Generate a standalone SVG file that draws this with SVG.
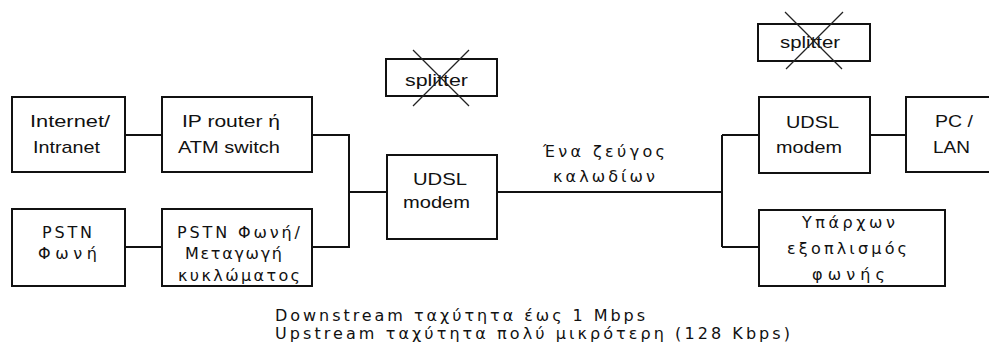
<svg xmlns="http://www.w3.org/2000/svg" width="989" height="350" viewBox="0 0 989 350">
<style>
.box{fill:#fff;stroke:#111;stroke-width:2}
.ln{fill:none;stroke:#111;stroke-width:2}
.x{stroke:#222;stroke-width:1.3}
.t{font-family:"Liberation Sans",Arial,sans-serif;font-size:17px;fill:#111}
.g{font-family:"DejaVu Sans","Liberation Sans",sans-serif;font-size:16px;fill:#111}
</style>
<rect width="989" height="350" fill="#fff"/>
<g id="connectors">
<path class="ln" d="M125 135H162M125 247H162M312 135H349V247H312M349 192H387M497 192H722M722 135V247M722 135H759M722 247H759M870 135H906"/>
</g>
<g id="internet">
<rect class="box" x="12" y="97" width="113" height="75"/>
<text class="t" x="30" y="127" textLength="80" lengthAdjust="spacingAndGlyphs">Internet/</text>
<text class="t" x="33" y="153" textLength="67" lengthAdjust="spacingAndGlyphs">Intranet</text>
</g>
<g id="iprouter">
<rect class="box" x="162" y="97" width="150" height="75"/>
<text class="t" x="182" y="127" textLength="98" lengthAdjust="spacingAndGlyphs">IP router  ή</text>
<text class="t" x="178" y="153" textLength="102" lengthAdjust="spacingAndGlyphs">ATM switch</text>
</g>
<g id="pstn">
<rect class="box" x="12" y="209" width="113" height="77"/>
<text class="g" x="42" y="238" textLength="50" lengthAdjust="spacing">PSTN</text>
<text class="g" x="38" y="259" textLength="59" lengthAdjust="spacing">Φωνή</text>
</g>
<g id="pstnswitch">
<rect class="box" x="162" y="209" width="150" height="77"/>
<text class="g" x="177" y="238" textLength="123" lengthAdjust="spacing">PSTN Φωνή/</text>
<text class="g" x="185" y="259" textLength="97" lengthAdjust="spacing">Μεταγωγή</text>
<text class="g" x="178" y="281" textLength="122" lengthAdjust="spacing">κυκλώματος</text>
</g>
<g id="splitter1">
<rect class="box" x="386" y="59" width="111" height="37"/>
<text class="t" x="405" y="86" textLength="63" lengthAdjust="spacingAndGlyphs">splitter</text>
<line class="x" x1="413" y1="50" x2="469" y2="106"/>
<line class="x" x1="469" y1="50" x2="413" y2="106"/>
</g>
<g id="modem1">
<rect class="box" x="387" y="155" width="110" height="84"/>
<text class="t" x="413" y="185" textLength="54" lengthAdjust="spacingAndGlyphs">UDSL</text>
<text class="t" x="403" y="208" textLength="67" lengthAdjust="spacingAndGlyphs">modem</text>
</g>
<g id="pairlabel">
<text class="g" x="543" y="157" textLength="122" lengthAdjust="spacing">Ένα ζεύγος</text>
<text class="g" x="553" y="182" textLength="102" lengthAdjust="spacing">καλωδίων</text>
</g>
<g id="splitter2">
<rect class="box" x="758" y="24" width="112" height="37"/>
<text class="t" x="780" y="48" textLength="60" lengthAdjust="spacingAndGlyphs">splitter</text>
<line class="x" x1="785" y1="12" x2="842" y2="69"/>
<line class="x" x1="843" y1="12" x2="786" y2="69"/>
</g>
<g id="modem2">
<rect class="box" x="759" y="97" width="111" height="76"/>
<text class="t" x="786" y="128" textLength="53" lengthAdjust="spacingAndGlyphs">UDSL</text>
<text class="t" x="776" y="153" textLength="66" lengthAdjust="spacingAndGlyphs">modem</text>
</g>
<g id="pclan">
<rect class="box" x="906" y="97" width="100" height="75"/>
<text class="t" x="935" y="127" textLength="38" lengthAdjust="spacingAndGlyphs">PC /</text>
<text class="t" x="933" y="153" textLength="37" lengthAdjust="spacingAndGlyphs">LAN</text>
</g>
<g id="voice">
<rect class="box" x="759" y="210" width="186" height="76"/>
<text class="g" x="802" y="228" textLength="93" lengthAdjust="spacing">Υπάρχων</text>
<text class="g" x="787" y="254" textLength="120" lengthAdjust="spacing">εξοπλισμός</text>
<text class="g" x="812" y="280" textLength="73" lengthAdjust="spacing">φωνής</text>
</g>
<g id="caption">
<text class="g" x="275" y="321" textLength="370" lengthAdjust="spacing">Downstream ταχύτητα έως 1 Mbps</text>
<text class="g" x="275" y="339" textLength="515" lengthAdjust="spacing">Upstream ταχύτητα πολύ μικρότερη (128 Kbps)</text>
</g>
</svg>
